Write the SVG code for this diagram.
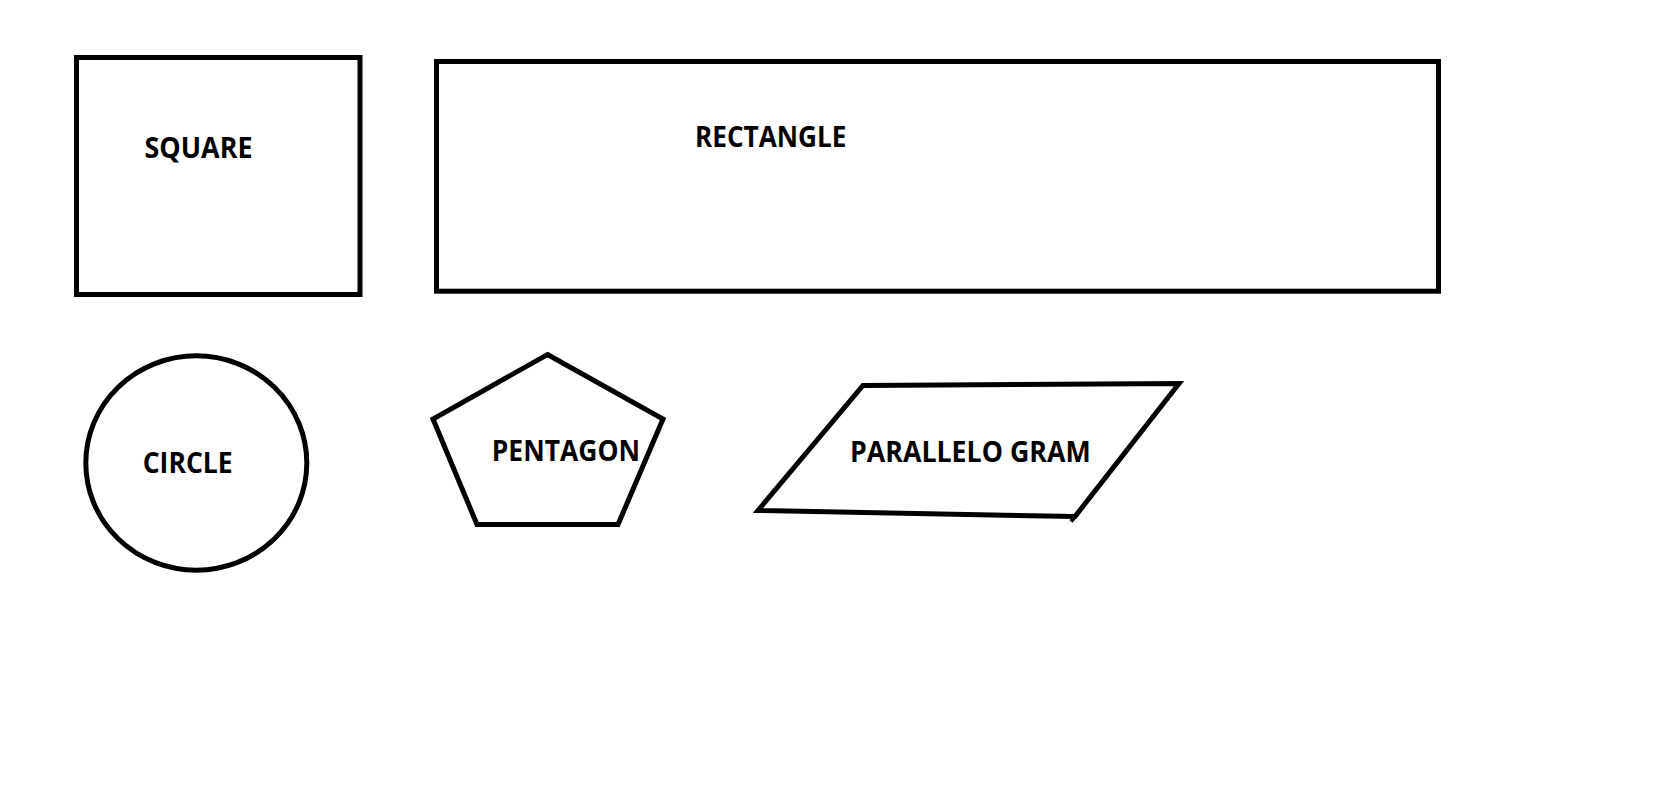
<svg xmlns="http://www.w3.org/2000/svg" width="1653" height="787" viewBox="0 0 1653 787">
<style>
.s{fill:#fff;stroke:#000;stroke-width:5;stroke-linejoin:miter}
.t{font-family:"Open Sans","DejaVu Sans",sans-serif;font-weight:bold;font-size:28.5px;fill:#000}
</style>
<rect width="1653" height="787" fill="#fff"/>
<g id="square">
<rect class="s" x="76.5" y="57.5" width="283.5" height="237"/>
<text class="t" x="144.5" y="158.3" textLength="108" lengthAdjust="spacingAndGlyphs">SQUARE</text>
</g>
<g id="rectangle">
<rect class="s" x="436.5" y="61.5" width="1002" height="229.7"/>
<text class="t" x="695" y="146.7" textLength="151.5" lengthAdjust="spacingAndGlyphs">RECTANGLE</text>
</g>
<g id="circle">
<ellipse class="s" cx="196.3" cy="463" rx="110.5" ry="107.2"/>
<text class="t" x="142.7" y="473.3" textLength="90" lengthAdjust="spacingAndGlyphs">CIRCLE</text>
</g>
<g id="pentagon">
<polygon class="s" points="547.5,354.5 663,419 618,524.5 477,524.5 433,419"/>
<text class="t" x="491.7" y="460.7" textLength="148.3" lengthAdjust="spacingAndGlyphs">PENTAGON</text>
</g>
<g id="parallelogram">
<polygon class="s" points="863,385.5 1179,383.5 1075,516.5 758,510.5"/>
<path d="M1075,516.5 L1071,521.5" fill="none" stroke="#000" stroke-width="4"/>
<text class="t" x="850" y="461.7" textLength="240.7" lengthAdjust="spacingAndGlyphs">PARALLELO GRAM</text>
</g>
<g id="connectors"></g>
</svg>
